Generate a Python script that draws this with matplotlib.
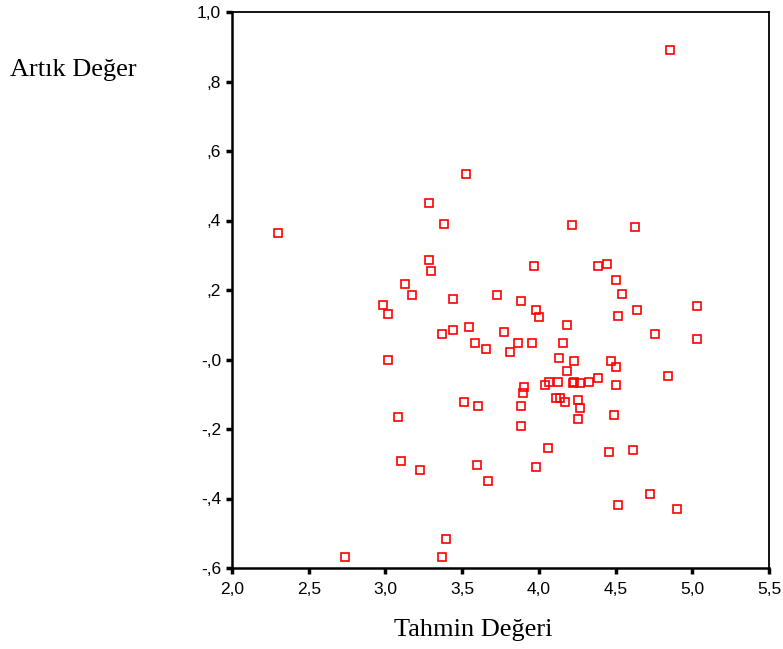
import matplotlib
matplotlib.use("Agg")
import matplotlib.pyplot as plt

# Predicted values (Tahmin Değeri)
tahmin = [4.855, 2.302, 3.525, 3.284, 3.380, 3.284, 3.295, 3.128, 3.175, 3.438,
          3.727, 3.882, 2.984, 3.019, 3.547, 3.438, 3.367, 3.775, 3.584, 3.654,
          3.812, 3.862, 3.019, 4.218, 4.627, 3.966, 4.385, 4.444, 4.505, 4.542,
          5.033, 3.979, 4.638, 4.001, 4.518, 4.181, 4.759, 5.033, 3.953, 4.159,
          4.133, 4.231, 4.470, 4.505, 4.181, 4.844, 4.064, 4.123, 4.221, 4.231,
          4.268, 4.327, 4.385, 4.038, 4.505, 3.905, 3.895, 3.510, 3.605, 3.080,
          3.103, 3.225, 3.595, 3.667, 3.393, 2.735, 3.367, 3.882, 3.882, 4.110,
          4.138, 4.170, 4.253, 4.266, 4.253, 4.492, 4.062, 3.979, 4.459, 4.614,
          4.722, 4.518, 4.902]

# Residuals (Artık Değer)
artik = [0.891, 0.365, 0.534, 0.450, 0.391, 0.286, 0.254, 0.216, 0.185, 0.174,
         0.185, 0.169, 0.158, 0.132, 0.094, 0.084, 0.073, 0.079, 0.047, 0.030,
         0.021, 0.047, -0.001, 0.386, 0.381, 0.269, 0.269, 0.275, 0.228, 0.189,
         0.153, 0.142, 0.142, 0.121, 0.126, 0.100, 0.073, 0.058, 0.047, 0.047,
         0.004, -0.005, -0.005, -0.022, -0.032, -0.048, -0.064, -0.064, -0.067, -0.064,
         -0.069, -0.064, -0.054, -0.073, -0.073, -0.078, -0.096, -0.123, -0.134, -0.166,
         -0.293, -0.319, -0.303, -0.351, -0.516, -0.568, -0.568, -0.134, -0.192, -0.112,
         -0.112, -0.123, -0.117, -0.139, -0.170, -0.160, -0.256, -0.309, -0.266, -0.260,
         -0.388, -0.420, -0.430]

x_ticks = [2.0, 2.5, 3.0, 3.5, 4.0, 4.5, 5.0, 5.5]
x_tick_labels = ["2,0", "2,5", "3,0", "3,5", "4,0", "4,5", "5,0", "5,5"]
y_ticks = [-0.6, -0.4, -0.2, 0.0, 0.2, 0.4, 0.6, 0.8, 1.0]
y_tick_labels = ["-,6", "-,4", "-,2", "-,0", ",2", ",4", ",6", ",8", "1,0"]

fig = plt.figure(figsize=(7.83, 6.49), dpi=100)
ax = fig.add_axes([232/783, 1 - 568/649, (769 - 232)/783, (568 - 12)/649])

ax.plot(tahmin, artik, linestyle="none", marker="s", markersize=6,
        markerfacecolor="none", markeredgecolor="#ff0000", markeredgewidth=1.2)

ax.set_xlim(2.0, 5.5)
ax.set_ylim(-0.6, 1.0)
ax.set_xticks(x_ticks)
ax.set_xticklabels(x_tick_labels)
ax.set_yticks(y_ticks)
ax.set_yticklabels(y_tick_labels)

for s in ax.spines.values():
    s.set_color("black")
    s.set_linewidth(1.3)
ax.spines["left"].set_linewidth(1.8)
ax.spines["bottom"].set_linewidth(1.8)

ax.tick_params(axis="both", direction="out", length=4, width=2.5, color="black",
               labelsize=12.5)
ax.tick_params(axis="x", pad=6)
ax.tick_params(axis="y", pad=4)
for lab in ax.get_xticklabels() + ax.get_yticklabels():
    lab.set_fontfamily("Liberation Sans")

fig.text(73.5/783, 1 - 76/649, "Artık Değer", ha="center", va="baseline",
         fontsize=19, family="Liberation Serif")
fig.text(473.5/783, 1 - 636/649, "Tahmin Değeri", ha="center", va="baseline",
         fontsize=19, family="Liberation Serif")

fig.savefig("out.png", dpi=100)
